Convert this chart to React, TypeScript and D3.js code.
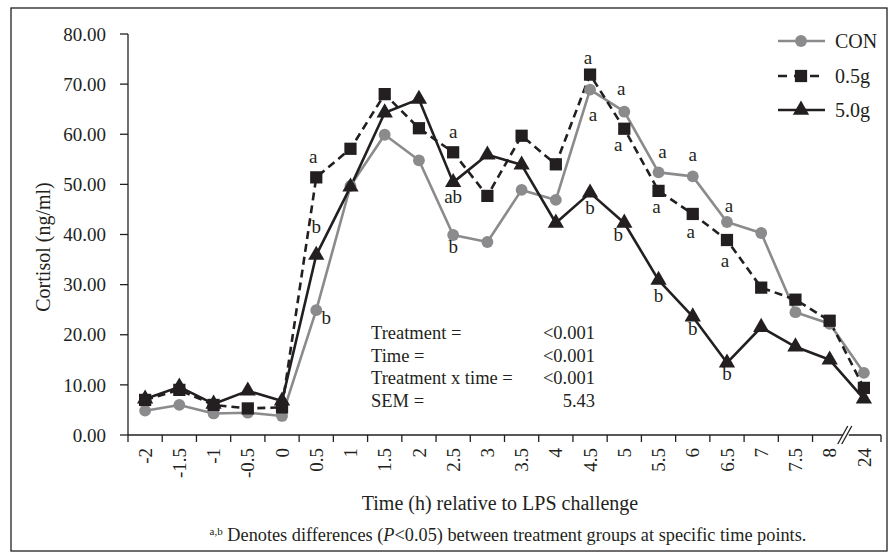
import React from "react";
import * as d3 from "d3";

const categories = ["-2", "-1.5", "-1", "-0.5", "0", "0.5", "1", "1.5", "2", "2.5", "3", "3.5", "4", "4.5", "5", "5.5", "6", "6.5", "7", "7.5", "8", "24"];
const conValues = [4.85, 6.0, 4.3, 4.45, 3.8, 24.9, 49.7, 59.9, 54.8, 39.9, 38.5, 48.9, 46.9, 68.9, 64.5, 52.4, 51.6, 42.5, 40.3, 24.5, 22.2, 12.4];
const g05Values = [7.0, 9.0, 6.0, 5.3, 5.5, 51.4, 57.1, 68.0, 61.2, 56.4, 47.7, 59.7, 54.0, 71.9, 61.1, 48.7, 44.1, 38.9, 29.4, 27.0, 22.8, 9.4];
const g50Values = [7.2, 9.6, 6.2, 8.8, 6.8, 35.9, 49.5, 64.3, 67.0, 50.4, 55.9, 53.9, 42.3, 48.3, 42.3, 30.9, 23.6, 14.4, 21.5, 17.6, 15.0, 7.2];
const yTicks = [0, 10, 20, 30, 40, 50, 60, 70, 80];
const seriesNames = ["CON", "0.5g", "5.0g"];

// significance letters: [time, series index, letter, dx, dy]
const letters: [string, number, string, number, number][] = [
  ["0.5", 1, "a", -3, -20],
  ["0.5", 2, "b", 0, -28],
  ["0.5", 0, "b", 10, 8],
  ["2.5", 1, "a", 0, -20],
  ["2.5", 2, "ab", 0, 15],
  ["2.5", 0, "b", 0, 12],
  ["4.5", 1, "a", -2, -17],
  ["4.5", 0, "a", 3, 25],
  ["4.5", 2, "b", 0, 15],
  ["5", 0, "a", -3, -23],
  ["5", 1, "a", -6, 16],
  ["5", 2, "b", -6, 12],
  ["5.5", 0, "a", 4, -20],
  ["5.5", 1, "a", -2, 16],
  ["5.5", 2, "b", 0, 16],
  ["6", 0, "a", 0, -21],
  ["6", 1, "a", -2, 18],
  ["6", 2, "b", 0, 12],
  ["6.5", 0, "a", 2, -16],
  ["6.5", 1, "a", -2, 21],
  ["6.5", 2, "b", 0, 11],
];

const statsLabels = ["Treatment =", "Time =", "Treatment x time =", "SEM ="];
const statsValues = ["<0.001", "<0.001", "<0.001", "5.43"];

const W = 893;
const H = 558;
const FONT = "Liberation Serif, Times New Roman, DejaVu Serif, serif";
const INK = "#231f20";
const GREY = "#8b8b8d";

export default function App() {
  const x = d3.scaleBand<string>().domain(categories).range([128, 881]).padding(0);
  const y = d3.scaleLinear().domain([0, 80]).range([435, 34]);
  const cx = (c: string) => (x(c) as number) + x.bandwidth() / 2;

  const allSeries = [conValues, g05Values, g50Values];
  const styles = [
    { stroke: GREY, dash: undefined as string | undefined, symbol: d3.symbolCircle, size: 110, fill: GREY },
    { stroke: INK, dash: "8,5", symbol: d3.symbolSquare, size: 150, fill: INK },
    { stroke: INK, dash: undefined, symbol: d3.symbolTriangle, size: 115, fill: INK },
  ];

  const line = d3
    .line<number>()
    .x((_, i) => cx(categories[i]))
    .y((v) => y(v));

  const symbolPath = (k: number) => d3.symbol().type(styles[k].symbol).size(styles[k].size)() as string;

  const breakX = x("24") as number;
  const axisY = y(0);
  const legendY = [41, 76, 110];
  const ts = { fontFamily: FONT } as React.CSSProperties;

  return (
    <svg width={W} height={H} style={{ position: "absolute", left: 0, top: 0, background: "#fff", fontFamily: FONT }}>
      <rect x={0} y={0} width={W} height={H} fill="#fff" />
      <rect x={11} y={8} width={876} height={543} fill="none" stroke={INK} strokeWidth={1.3} />

      {/* y axis */}
      <line x1={128} x2={128} y1={y(80)} y2={axisY} stroke={INK} strokeWidth={1.3} />
      {yTicks.map((t) => (
        <g key={t}>
          <line x1={120} x2={128} y1={y(t)} y2={y(t)} stroke={INK} strokeWidth={1.3} />
          <text x={106} y={y(t)} dy="0.35em" textAnchor="end" fontSize={19} fill={INK} style={ts}>
            {t.toFixed(2)}
          </text>
        </g>
      ))}
      <text transform={`translate(50,247) rotate(-90)`} textAnchor="middle" fontSize={20} fill={INK} style={ts}>
        Cortisol (ng/ml)
      </text>

      {/* x axis */}
      <line x1={128} x2={881} y1={axisY} y2={axisY} stroke={INK} strokeWidth={1.3} />
      {categories.map((c, i) => {
        const bx = x(c) as number;
        const ticks = [] as React.ReactNode[];
        if (c !== "24") ticks.push(<line key={"t" + c} x1={bx} x2={bx} y1={axisY} y2={axisY + 7} stroke={INK} strokeWidth={1.3} />);
        if (i === categories.length - 1) {
          const ex = bx + x.bandwidth();
          ticks.push(<line key={"tend"} x1={ex} x2={ex} y1={axisY} y2={axisY + 7} stroke={INK} strokeWidth={1.3} />);
        }
        return (
          <g key={c}>
            {ticks}
            <text
              transform={`translate(${cx(c)},${axisY + 13}) rotate(-90)`}
              textAnchor="end"
              dy="0.35em"
              fontSize={19}
              fill={INK}
              style={ts}
            >
              {c}
            </text>
          </g>
        );
      })}
      {/* axis break */}
      <rect x={breakX - 4} y={axisY - 3} width={6} height={6} fill="#fff" />
      <line x1={breakX - 9} x2={breakX + 1} y1={axisY + 9} y2={axisY - 9} stroke={INK} strokeWidth={1.3} />
      <line x1={breakX - 5} x2={breakX + 5} y1={axisY + 9} y2={axisY - 9} stroke={INK} strokeWidth={1.3} />

      <text x={500} y={510} textAnchor="middle" fontSize={20} fill={INK} style={ts}>
        Time (h) relative to LPS challenge
      </text>
      <text x={508} y={541} textAnchor="middle" fontSize={18.3} fill={INK} style={ts}>
        <tspan fontSize={11} dy={-6}>a,b</tspan>
        <tspan dy={6}> Denotes differences (</tspan>
        <tspan fontStyle="italic">P</tspan>
        <tspan>{"<0.05) between treatment groups at specific time points."}</tspan>
      </text>

      {/* stats */}
      {statsLabels.map((s, i) => (
        <g key={s}>
          <text x={371} y={339 + i * 22.5} fontSize={18.5} fill={INK} style={ts}>{s}</text>
          <text x={595} y={339 + i * 22.5} textAnchor="end" fontSize={18.5} fill={INK} style={ts}>{statsValues[i]}</text>
        </g>
      ))}

      {/* series */}
      {allSeries.map((vals, k) => (
        <path key={"l" + k} d={line(vals) as string} fill="none" stroke={styles[k].stroke} strokeWidth={2.6} strokeDasharray={styles[k].dash} strokeLinejoin="round" />
      ))}
      {allSeries.map((vals, k) => (
        <g key={"m" + k}>
          {vals.map((v, i) => (
            <path key={i} d={symbolPath(k)} transform={`translate(${cx(categories[i])},${y(v)})`} fill={styles[k].fill} />
          ))}
        </g>
      ))}

      {/* letters */}
      {letters.map(([t, s, l, dx, dy], i) => {
        const v = allSeries[s][categories.indexOf(t)];
        return (
          <text key={i} x={cx(t) + dx} y={y(v) + dy} dy="0.32em" textAnchor="middle" fontSize={19} fill={INK} style={ts}>
            {l}
          </text>
        );
      })}

      {/* legend */}
      {seriesNames.map((n, k) => (
        <g key={n}>
          <line x1={778} x2={825} y1={legendY[k]} y2={legendY[k]} stroke={styles[k].stroke} strokeWidth={2.6} strokeDasharray={k === 1 ? "9,7" : undefined} />
          <path d={symbolPath(k)} transform={`translate(801,${legendY[k]})`} fill={styles[k].fill} />
          <text x={835} y={legendY[k]} dy="0.35em" fontSize={20} fill={INK} style={ts}>{n}</text>
        </g>
      ))}
    </svg>
  );
}
